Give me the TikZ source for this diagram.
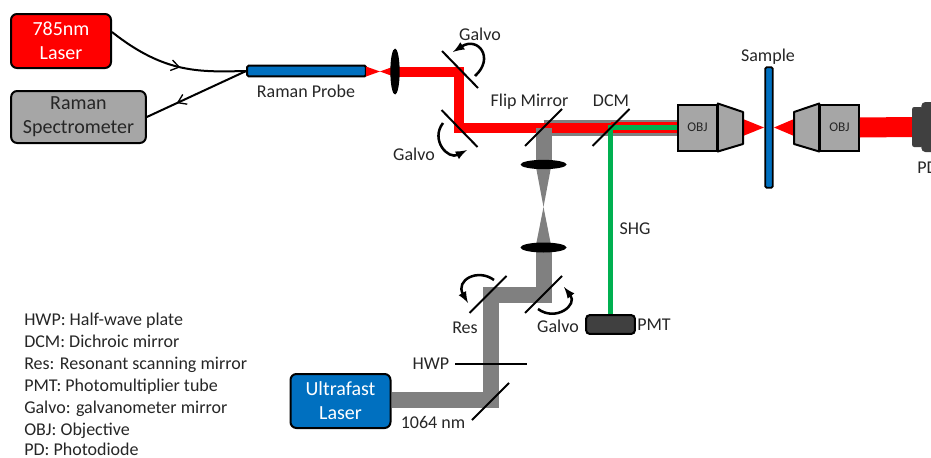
\documentclass[tikz,border=0pt]{standalone}
\usepackage{fontspec}
\setmainfont{Carlito}
\usetikzlibrary{shapes.geometric,decorations.markings,arrows.meta}

\definecolor{beamred}{HTML}{FF0000}
\definecolor{beamgray}{HTML}{808080}
\definecolor{beamgreen}{HTML}{00B050}
\definecolor{boxblue}{HTML}{0070C0}
\definecolor{boxgray}{HTML}{A6A6A6}
\definecolor{boxdark}{HTML}{404040}
\definecolor{labeltext}{HTML}{262626}

\tikzstyle{block} = [draw, text centered, align = center, rounded corners = 4.5pt, line width = 1.5pt, inner sep = 0pt, font = \fontsize{15}{18}\selectfont]
\tikzstyle{label} = [text = labeltext, inner sep = 0pt, text height = 10pt, text depth = 1.4pt, font = \fontsize{13.5}{16}\selectfont]
\tikzstyle{legend} = [label, anchor = west]
\tikzstyle{obj} = [draw, fill = boxgray, line width = 1.5pt, minimum width = 29pt, minimum height = 34.5pt, inner sep = 0pt, text = labeltext, font = \fontsize{10}{12}\selectfont]
\tikzstyle{lens} = [ellipse, fill = black, inner sep = 0pt]
\tikzstyle{mirror} = [line width = 1.5pt]
\tikzstyle{rotor} = [-latex, line width = 1.9pt]
\tikzstyle{redbeam} = [beamred, line width = 7.5pt, line join = miter]
\tikzstyle{graybeam} = [beamgray, line width = 12pt, line join = miter]
\tikzstyle{fiber} = [line width = 1.5pt, postaction = {decorate}]

\begin{document}
\begin{tikzpicture}[x = 0.75pt, y = -0.75pt]
		\useasboundingbox (0, 0) rectangle (931, 457);

		% points on the beam paths
		\coordinate (lensred) at (395, 71.5);
		\coordinate (galvoA) at (459, 71.5);
		\coordinate (galvoB) at (459, 127.5);
		\coordinate (flip) at (543.5, 127.5);
		\coordinate (dcm) at (611, 127.5);
		\coordinate (lensA) at (543.5, 164.5);
		\coordinate (lensB) at (543.5, 247.5);
		\coordinate (galvoC) at (543.5, 294.5);
		\coordinate (res) at (491, 294.5);
		\coordinate (fold) at (491, 400);

		% blocks
		\node [block, fill = beamred, text = white, minimum width = 75pt, minimum height = 40.5pt] at (61, 41) (laser) {785nm\\Laser};
		\node [block, fill = boxgray, text = labeltext, minimum width = 101pt, minimum height = 39pt] at (78.5, 117) (spec) {Raman\\Spectrometer};
		\node [block, fill = boxblue, text = white, minimum width = 75pt, minimum height = 40.5pt] at (340.5, 401) (ultra) {Ultrafast\\Laser};
		\node [block, fill = boxdark, rounded corners = 2.5pt, minimum width = 36.5pt, minimum height = 14pt] at (610.5, 324.5) (pmt) {};
		\node [draw, fill = boxblue, line width = 1.5pt, rounded corners = 1pt, minimum width = 89pt, minimum height = 8pt, inner sep = 0pt] at (306.5, 71) (probe) {};
		\node [obj] at (697.5, 127.5) (objA) {OBJ};
		\node [obj] at (839.5, 127.5) (objB) {OBJ};
		\node [draw, fill = boxblue, line width = 1.3pt, rounded corners = 1pt, minimum width = 5.5pt, minimum height = 90.5pt, inner sep = 0pt] at (769, 127.5) (sample) {};
		\node [draw = none, fill = boxdark, rounded corners = 1.5pt, minimum width = 8pt, minimum height = 30pt, inner sep = 0pt] at (917.5, 127) (pdA) {};
		\node [draw = none, fill = boxdark, rounded corners = 3pt, minimum width = 22pt, minimum height = 37.5pt, inner sep = 0pt] at (936, 127) (pdB) {};

		% fibers
		\draw [fiber, decoration = {markings, mark = at position 0.54 with {\arrow{Straight Barb[length = 6pt, width = 8pt, line width = 1pt]}}}] (laser.10) .. controls (165, 74) and (200, 72) .. (probe.west);
		\draw [fiber, decoration = {markings, mark = at position 0.7 with {\arrow{Straight Barb[length = 6pt, width = 8pt, line width = 1pt]}}}] (probe.west) -- (spec.east);

		% beams
		\fill [beamred] (366, 66.5) -- (380, 71.5) -- (366, 76.5) -- cycle;
		\fill [beamred] (395, 66) -- (380, 71.5) -- (395, 77) -- cycle;
		\draw [graybeam] (flip) -- (objA.west);
		\draw [redbeam] (lensred) -- (galvoA) -- (galvoB) -- (dcm);
		\draw [beamred, line width = 8pt] (dcm) -- (objA.west);
		\draw [beamgreen, line width = 4pt] (pmt.north) |- (objA.west);
		\draw [graybeam] (flip) -- (lensA);
		\fill [beamgray] (535.5, 164.5) -- (543.5, 207) -- (551.5, 164.5) -- cycle;
		\fill [beamgray] (535.5, 247.5) -- (543.5, 207) -- (551.5, 247.5) -- cycle;
		\draw [graybeam] (lensB) -- (galvoC) -- (res) -- (fold) -- (ultra.east |- fold);
		\draw [beamred, line width = 15pt] (objB.east) -- (pdA.west);
		\fill [beamred] (743, 119) -- (764, 127.5) -- (743, 136) -- cycle;
		\fill [beamred] (794, 119) -- (774, 127.5) -- (794, 136) -- cycle;

		% objective barrels
		\draw [fill = boxgray, line width = 1.5pt, line join = round] (objA.north east) -- (743, 112) -- (743, 144) -- (objA.south east) -- cycle;
		\draw [fill = boxgray, line width = 1.5pt, line join = round] (objB.north west) -- (794, 112) -- (794, 144) -- (objB.south west) -- cycle;

		% lenses
		\node [lens, minimum width = 7pt, minimum height = 34.5pt] at (lensred) (lensC) {};
		\node [lens, minimum width = 34.5pt, minimum height = 7pt] at (lensA) (lensD) {};
		\node [lens, minimum width = 34.5pt, minimum height = 7.5pt] at (lensB) (lensE) {};

		% mirrors
		\draw [mirror] (460, 69.5) +(-18, -18.5) -- +(18, 18.5);
		\draw [mirror] (459.5, 128.5) +(-18, -18.5) -- +(18, 18.5);
		\draw [mirror] (flip) +(-18.5, 18.5) -- +(18.5, -18.5);
		\draw [mirror] (dcm) +(-18.5, 18.5) -- +(18.5, -18.5);
		\draw [mirror] (galvoC) +(-18.5, 18.5) -- +(18.5, -18.5);
		\draw [mirror] (488, 294.5) +(-18.5, 18.5) -- +(18.5, -18.5);
		\draw [mirror] (490.5, 401.5) +(-18.5, 18.5) -- +(18.5, -18.5);
		\draw [mirror] (455, 364) -- (527, 364);

		% scan directions
		\draw [rotor] (475, 76) .. controls (495, 58) and (478, 36) .. (453, 52);
		\draw [rotor] (443, 123) .. controls (430, 140) and (448, 160) .. (467, 150);
		\draw [rotor] (538, 309) .. controls (556, 322) and (578, 305) .. (564, 287);
		\draw [rotor] (494, 280) .. controls (478, 268) and (455, 280) .. (468, 303);

		% labels
		\node [label] at (480, 35) (galvoAtext) {Galvo};
		\node [label] at (414, 155) (galvoBtext) {Galvo};
		\node [label] at (558, 327) (galvoCtext) {Galvo};
		\node [label] at (529.5, 101) (fliptext) {Flip Mirror};
		\node [label] at (611, 101) (dcmtext) {DCM};
		\node [label] at (768, 56) (sampletext) {Sample};
		\node [label] at (306, 92) (probetext) {Raman Probe};
		\node [label] at (635, 229) (shgtext) {SHG};
		\node [label] at (465, 328) (restext) {Res};
		\node [label] at (431, 364) (hwptext) {HWP};
		\node [label] at (433, 423) (lambdatext) {1064 nm};
		\node [label, anchor = west] at (637, 325) (pmttext) {PMT};
		\node [label, anchor = west] at (917, 168) (pdtext) {PD};

		% legend
		\node [legend] at (24, 320) (hwpkey) {HWP: Half-wave plate};
		\node [legend] at (24, 342) (dcmkey) {DCM: Dichroic mirror};
		\node [legend] at (24, 364) (reskey) {Res: Resonant scanning mirror};
		\node [legend] at (24, 386) (pmtkey) {PMT: Photomultiplier tube};
		\node [legend] at (24, 408) (galvokey) {Galvo: galvanometer mirror};
		\node [legend] at (24, 430) (objkey) {OBJ: Objective};
		\node [legend] at (24, 450) (pdkey) {PD: Photodiode};
\end{tikzpicture}
\end{document}
